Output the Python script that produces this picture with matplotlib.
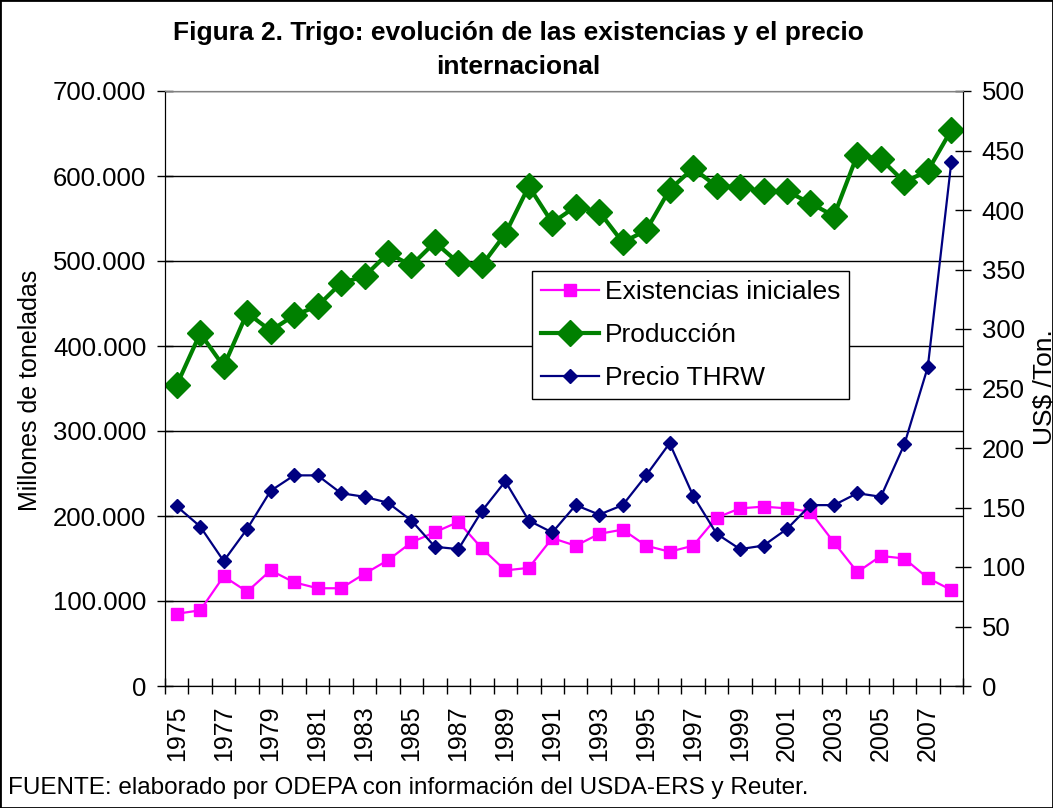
import numpy as np
import matplotlib.pyplot as plt
from matplotlib.ticker import FuncFormatter, FixedLocator, MultipleLocator
from matplotlib.lines import Line2D
from matplotlib.patches import Rectangle

plt.rcParams['font.family'] = ['Liberation Sans', 'DejaVu Sans']

years = list(range(1975, 2009))

# miles de toneladas (eje izquierdo)
produccion = [354000, 415000, 376000, 439000, 418000, 436000, 447000, 474000, 482000, 509000,
              495000, 522000, 498000, 495000, 532000, 588000, 545000, 564000, 558000, 522000,
              536000, 584000, 609000, 588000, 587000, 582000, 582000, 568000, 553000, 625000,
              620000, 593000, 606000, 654000]
existencias = [85000, 89000, 129000, 111000, 136000, 122000, 115000, 115000, 132000, 148000,
               169000, 181000, 193000, 162000, 136000, 139000, 174000, 165000, 179000, 184000,
               165000, 158000, 165000, 198000, 209000, 211000, 209000, 205000, 169000, 134000,
               153000, 150000, 127000, 113000]
# US$/Ton (eje derecho)
precio = [151, 134, 105, 132, 164, 177, 177, 162, 159, 154,
          139, 117, 115, 147, 172, 139, 129, 152, 144, 152,
          177, 204, 160, 128, 115, 118, 132, 152, 152, 162,
          159, 203, 268, 440]

x = np.arange(len(years))

fig = plt.figure(figsize=(10.53, 8.08), dpi=100)
ax = fig.add_axes([165/1053, 122/808, 798/1053, 595/808])
ax2 = ax.twinx()

ax.plot(x, existencias, color='#FF00FF', lw=1.6, marker='s', ms=8.5, mec='#FF00FF', zorder=3)
ax.plot(x, produccion, color='#008000', lw=3, marker='D', ms=13, mec='#008000', zorder=4)
ax2.plot(x, precio, color='#000080', lw=1.6, marker='D', ms=7.5, mec='#000080', zorder=3)

ax.set_xlim(-0.5, len(years) - 0.5)
ax.set_ylim(0, 700000)
ax2.set_ylim(0, 500)

ax.yaxis.set_major_locator(MultipleLocator(100000))
ax.yaxis.set_major_formatter(FuncFormatter(lambda v, p: f"{int(v):,}".replace(",", ".")))
ax2.yaxis.set_major_locator(MultipleLocator(50))
ax.grid(axis='y', color='black', lw=1)
ax.set_axisbelow(True)

# marcas del eje x en los limites de categoria, etiquetas cada dos años
ax.xaxis.set_major_locator(FixedLocator(np.arange(-0.5, len(years), 1)))
ax.xaxis.set_major_formatter(FuncFormatter(lambda v, p: ""))
ax.xaxis.set_minor_locator(FixedLocator(x[::2]))
ax.set_xticklabels([str(y) for y in years[::2]], minor=True, rotation=90)
ax.tick_params(axis='x', which='minor', length=0, pad=14, labelsize=18)
ax.tick_params(axis='x', which='major', direction='inout', length=11, width=1)

ax.tick_params(axis='y', direction='inout', length=11, width=1, labelsize=18.5, pad=8)
ax2.tick_params(axis='y', direction='inout', length=11, width=1, labelsize=18.5, pad=8)

for a in (ax, ax2):
    a.spines['top'].set_color('#808080')
    for s in ('left', 'right', 'bottom'):
        a.spines[s].set_color('black')

ax.set_ylabel('Millones de toneladas', fontsize=18)
ax.yaxis.set_label_coords(-0.154, 0.497)
fig.text(1045/1053, 1 - 387/808, 'US$ /Ton.', rotation=90, fontsize=19,
         ha='center', va='center')

fig.text(518/1053, 1 - 33/808, 'Figura 2. Trigo: evolución de las existencias y el precio',
         fontsize=19, fontweight='bold', ha='center', va='center')
fig.text(518/1053, 1 - 67/808, 'internacional',
         fontsize=19, fontweight='bold', ha='center', va='center')

fig.text(8/1053, 1 - 788/808, 'FUENTE: elaborado por ODEPA con información del USDA-ERS y Reuter.',
         fontsize=17.5, ha='left', va='center')

handles = [
    Line2D([], [], color='#FF00FF', lw=1.6, marker='s', ms=8.5),
    Line2D([], [], color='#008000', lw=3, marker='D', ms=13),
    Line2D([], [], color='#000080', lw=1.6, marker='D', ms=7.5),
]
leg = ax2.legend(handles, ['Existencias iniciales', 'Producción', 'Precio THRW'],
                 loc='upper left', bbox_to_anchor=(0.46, 0.6975), borderaxespad=0,
                 fontsize=19, frameon=True, fancybox=False, edgecolor='black',
                 framealpha=1, handlelength=2.2, borderpad=0.35, labelspacing=0.72,
                 handletextpad=0.2)
leg.get_frame().set_linewidth(1)

fig.add_artist(Rectangle((0, 0), 1, 1, transform=fig.transFigure, fill=False,
                         edgecolor='black', lw=2))

fig.savefig('out.png', dpi=100)
